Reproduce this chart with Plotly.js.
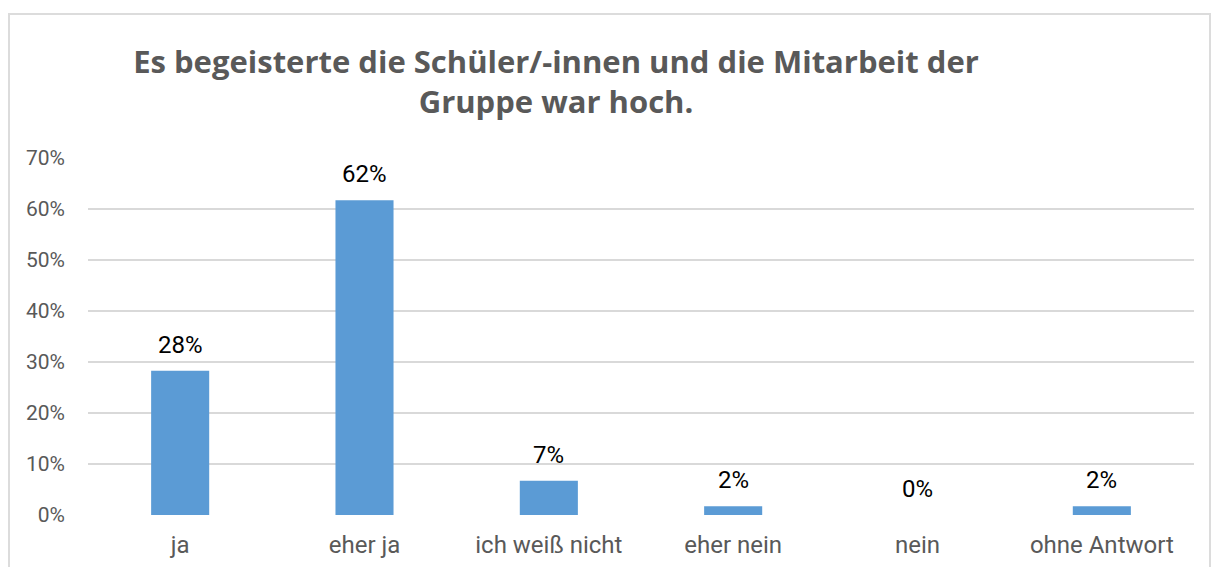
<!DOCTYPE html>
<html>
<head>
<meta charset="utf-8">
<script src="https://cdn.plot.ly/plotly-3.0.1.min.js"></script>
<style>
  html, body { margin: 0; padding: 0; background: #ffffff; }
  #wrap { position: relative; width: 1213px; height: 567px; overflow: hidden; }
  #chart { position: absolute; left: 0; top: 0; width: 1213px; height: 567px; }
  #frame { position: absolute; left: 8px; top: 13px; width: 1203px; height: 600px;
           border: 2px solid #dcdcdc; pointer-events: none; box-sizing: border-box; }
</style>
</head>
<body>
<div id="wrap">
  <div id="chart"></div>
  <div id="frame"></div>
</div>
<script>
const categories = ["ja", "eher ja", "ich weiß nicht", "eher nein", "nein", "ohne Antwort"];
const values = [28.3, 61.7, 6.7, 1.7, 0, 1.7];
const valueLabels = ["28%", "62%", "7%", "2%", "0%", "2%"];
const tickValues = [0, 10, 20, 30, 40, 50, 60, 70];
const tickLabels = ["0%", "10%", "20%", "30%", "40%", "50%", "60%", "70%"];
const chartTitle = "Es begeisterte die Schüler/-innen und die Mitarbeit der<br>Gruppe war hoch.";

const labelFont = "Roboto, 'Liberation Sans', sans-serif";

const trace = {
  type: "bar",
  x: categories,
  y: values,
  marker: { color: "#5b9bd5", line: { width: 0 } },
  width: 0.315,
  hoverinfo: "skip"
};

const annotations = categories.map((c, i) => ({
  x: c, y: values[i], xref: "x", yref: "y",
  text: valueLabels[i], showarrow: false,
  yanchor: "bottom", yshift: 10,
  font: { family: labelFont, size: 24, color: "#000000" }
}));

const layout = {
  width: 1213, height: 567,
  margin: { l: 88, r: 19, t: 158, b: 52 },
  paper_bgcolor: "#ffffff", plot_bgcolor: "#ffffff",
  showlegend: false,
  title: {
    text: chartTitle,
    font: { family: "'Open Sans', sans-serif", size: 31, color: "#595959", weight: "bold" },
    xref: "container", yref: "container",
    x: 556 / 1213, xanchor: "center",
    y: 1 - 73 / 567, yanchor: "top"
  },
  xaxis: {
    type: "category",
    showgrid: false, zeroline: false, showline: false,
    ticks: "", tickfont: { family: labelFont, size: 24, color: "#595959" },
    ticklabelstandoff: 13
  },
  yaxis: {
    range: [0, 70],
    tickvals: tickValues, ticktext: tickLabels,
    showgrid: true, gridcolor: "#d9d9d9", gridwidth: 2,
    zeroline: false, showline: false, ticks: "",
    tickfont: { family: labelFont, size: 21, color: "#595959" },
    ticklabelstandoff: 22
  },
  annotations: annotations
};

Plotly.newPlot("chart", [trace], layout, { staticPlot: true, displayModeBar: false });
</script>
</body>
</html>
